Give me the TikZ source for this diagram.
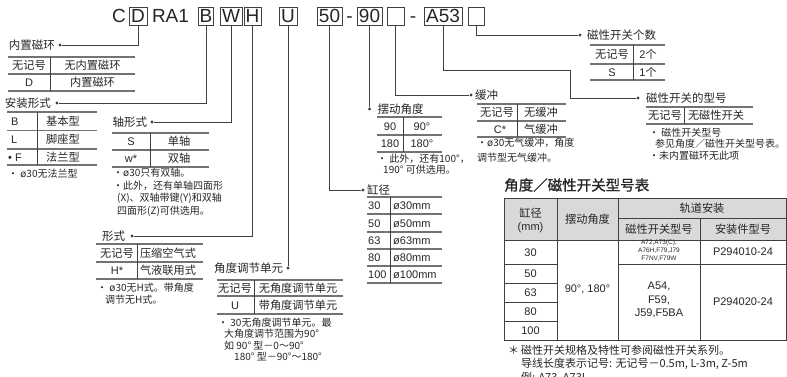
\documentclass[tikz,border=0pt]{standalone}
\usepackage{fontspec}
\setmainfont{Noto Sans CJK SC}
\newfontfamily\lat{Liberation Sans}
\newfontfamily\zh{Noto Sans CJK SC}
\newfontfamily\zhbold[FakeBold=1.2]{Noto Sans CJK SC}
\usetikzlibrary{positioning}
\colorlet{ink}{black!85}
\colorlet{rule}{black!55}
\colorlet{wire}{black!75}
\colorlet{head}{black!15}
\tikzset{
  codebox/.style ={draw=wire, line width=0.8pt, minimum height=18pt,
                   inner sep=0pt, font=\lat\fontsize{19}{19}\selectfont,
                   text height=13.6pt, text depth=0pt},
  codetxt/.style ={codebox, draw=none},
  leader/.style  ={draw=wire, line width=0.8pt},
  tip/.style     ={circle, fill=wire, inner sep=0pt, minimum size=3.2pt},
  lbl/.style     ={inner sep=0pt, font=\fontsize{11.5}{13}\selectfont,
                   text height=9pt, text depth=1pt},
  cell/.style    ={inner sep=0pt, font=\fontsize{11.2}{13}\selectfont,
                   text height=9pt, text depth=1pt},
  latcell/.style ={cell, font=\lat\fontsize{11}{13}\selectfont},
  % multi-line notes: the base anchor sits on the last line
  note/.style    ={inner sep=0pt, anchor=base west, align=left,
                   font=\fontsize{10}{12}\selectfont},
  foot/.style    ={inner sep=0pt, anchor=base west,
                   font=\fontsize{11}{13}\selectfont},
  rowline/.style ={draw=rule, line width=1.3pt},
  colline/.style ={draw=wire, line width=0.8pt},
  grid/.style    ={draw=wire, line width=0.7pt},
}

\begin{document}
\begin{tikzpicture}[x=1pt, y=-1pt, color=ink]
\useasboundingbox (0,0) rectangle (787,376);
\fill[white] (0,0) rectangle (787,376);

% model code
\node[codetxt] (cC) at (119,16) {C};
\node[codebox, minimum width=18pt] (bD) at (138,16) {D};
\node[codetxt] (cRA) at (170.5,16) {RA1};
\node[codebox, minimum width=15pt] (bB) at (206,16) {B};
\node[codebox, minimum width=22pt] (bW) at (231,16) {W};
\node[codebox, minimum width=17pt] (bH) at (252.5,16) {H};
\node[codebox, minimum width=18pt] (bU) at (288,16) {U};
\node[codebox, minimum width=25pt] (b50) at (329.5,16) {50};
\node[codetxt] (cDashA) at (349.5,16) {-};
\node[codebox, minimum width=25pt] (b90) at (369.5,16) {90};
\node[codebox, minimum width=17pt] (bCush) at (395.5,16) {};
\node[codetxt] (cDashB) at (413,16) {-};
\node[codebox, minimum width=38pt] (bA) at (443,16) {A53};
\node[codebox, minimum width=16pt] (bN) at (476,16) {};

% built-in magnet
\node[tip] (dD) at (60,45) {};
\node[lbl, left=3pt of dD] (lD) {内置磁环};
\draw[leader] (bD.south) |- (dD);
\foreach \y in {57,74,91} \draw[rowline] (8,\y) -- (135,\y);
\draw[colline] (50,57) -- (50,91);
\node[cell] (magNo) at (29,65.5) {无记号};
\node[cell] (magNoV) at (92.5,65.5) {无内置磁环};
\node[latcell] (magD) at (29,82.5) {D};
\node[cell] (magDV) at (92.5,82.5) {内置磁环};

% mounting
\node[tip] (dB) at (57,103) {};
\node[lbl, left=4pt of dB] (lB) {安装形式};
\draw[leader] (bB.south) |- (dB);
\foreach \y in {112,130.5,149,165} \draw[rowline] (7,\y) -- (97,\y);
\draw[colline] (37,112) -- (37,165);
\node[latcell, anchor=west] (mtB) at (11,121) {B};
\node[cell] (mtBV) at (63,121) {基本型};
\node[latcell, anchor=west] (mtL) at (11,139.5) {L};
\node[cell] (mtLV) at (63,139.5) {脚座型};
\node[latcell, anchor=west] (mtF) at (8,157) {• F};
\node[cell] (mtFV) at (63,157) {法兰型};
\node[note] (mtNote) at (8,177.5) {• ø30无法兰型};

% shaft
\node[tip] (dW) at (152,122) {};
\node[lbl, left=3pt of dW] (lW) {轴形式};
\draw[leader] (bW.south) |- (dW);
\foreach \y in {133,150,167} \draw[rowline] (112,\y) -- (209,\y);
\draw[colline] (150,133) -- (150,167);
\node[latcell] (shS) at (131,141.5) {S};
\node[cell] (shSV) at (179,141.5) {单轴};
\node[latcell] (shW) at (131,158.5) {w*};
\node[cell] (shWV) at (179,158.5) {双轴};
\node[note, font=\fontsize{10}{12.7}\selectfont] (shNote) at (113,214.6)
  {•ø30只有双轴。\\
   •此外，还有单轴四面形\\
   \hspace*{4pt}(X)、双轴带键(Y)和双轴\\
   \hspace*{4pt}四面形(Z)可供选用。};

% type
\node[tip] (dH) at (132,236) {};
\node[lbl, left=5pt of dH] (lH) {形式};
\draw[leader] (bH.south) |- (dH);
\foreach \y in {244,262,279} \draw[rowline] (96,\y) -- (203,\y);
\draw[colline] (137,244) -- (137,279);
\node[cell] (tyNo) at (117,253) {无记号};
\node[cell] (tyNoV) at (168,253) {压缩空气式};
\node[latcell] (tyH) at (117,270.5) {H*};
\node[cell] (tyHV) at (168,270.5) {气液联用式};
\node[note] (tyNote) at (97,303.5)
  {• ø30无H式。带角度\\
   \hspace*{8pt}调节无H式。};

% angle adjuster
\node[tip] (dU) at (288,268) {};
\node[lbl, left=3pt of dU] (lU) {角度调节单元};
\draw[leader] (bU.south) -- (dU);
\foreach \y in {280,296,314} \draw[rowline] (217,\y) -- (343,\y);
\draw[colline] (254,280) -- (254,314);
\node[cell] (adNo) at (235,288) {无记号};
\node[cell] (adNoV) at (298,288) {无角度调节单元};
\node[latcell] (adU) at (235,305) {U};
\node[cell] (adUV) at (298,305) {带角度调节单元};
\node[note, font=\fontsize{10}{11.4}\selectfont] (adNote) at (218,360.7)
  {• 30无角度调节单元。最\\
   \hspace*{6pt}大角度调节范围为90°\\
   \hspace*{6pt}如 90° 型－0～90°\\
   \hspace*{16pt}180° 型－90°～180°};

% bore
\node[tip] (dBore) at (363,190) {};
\node[lbl, right=2pt of dBore] (lBore) {缸径};
\draw[leader] (b50.south) |- (dBore);
\foreach \y in {197,214,232,249,266,283} \draw[rowline] (367,\y) -- (442,\y);
\draw[colline] (390,197) -- (390,283);
\foreach \v/\y [count=\i] in {30/205.5,50/223,63/240.5,80/257.5,100/274.5}{
  \node[latcell, anchor=west] (boK\i) at (368,\y) {\v};
  \node[latcell, anchor=west] (boV\i) at (393,\y) {ø\v mm};
}

% swing angle
\node[tip] (dSwing) at (369.5,109) {};
\node[lbl, right=6pt of dSwing] (lSwing) {摆动角度};
\draw[leader] (b90.south) -- (dSwing);
\foreach \y in {117,135,152} \draw[rowline] (377,\y) -- (442,\y);
\draw[colline] (403,117) -- (403,152);
\node[latcell] (swA) at (390,126) {90};
\node[latcell] (swAV) at (422,126) {90°};
\node[latcell] (swB) at (390,143.5) {180};
\node[latcell] (swBV) at (422,143.5) {180°};
\node[note, font=\fontsize{10}{11}\selectfont] (swNote) at (377,173.5)
  {• 此外，还有100°，\\
   \hspace*{6pt}190° 可供选用。};

% cushion
\node[tip] (dCush) at (471,95) {};
\node[lbl, right=2pt of dCush] (lCush) {缓冲};
\draw[leader] (bCush.south) |- (dCush);
\foreach \y in {104,121,137} \draw[rowline] (477,\y) -- (566,\y);
\draw[colline] (517,104) -- (517,137);
\node[cell] (cuNo) at (497,112.5) {无记号};
\node[cell] (cuNoV) at (541,112.5) {无缓冲};
\node[latcell] (cuC) at (500,129) {C*};
\node[cell] (cuCV) at (541,129) {气缓冲};
\node[note, font=\fontsize{10}{14.5}\selectfont] (cuNote) at (477,161)
  {•ø30无气缓冲，角度\\
   调节型无气缓冲。};

% switch model
\node[tip] (dSw) at (638,98) {};
\node[lbl, right=6pt of dSw] (lSw) {磁性开关的型号};
\draw[leader] (bA.south) |- (570,70) |- (dSw);
\foreach \y in {107,124} \draw[rowline] (646,\y) -- (753,\y);
\draw[colline] (684,107) -- (684,124);
\node[cell] (swNo) at (665,115.5) {无记号};
\node[cell] (swNoV) at (716,115.5) {无磁性开关};
\node[note, font=\fontsize{10}{11.5}\selectfont] (swtNote) at (649,159)
  {• 磁性开关型号\\
   \hspace*{6pt}参见角度／磁性开关型号表。\\
   •未内置磁环无此项};

% switch count
\node[tip] (dNum) at (580,35) {};
\node[lbl, right=5pt of dNum] (lNum) {磁性开关个数};
\draw[leader] (bN.south) |- (dNum);
\foreach \y in {45,64,80} \draw[rowline] (590,\y) -- (665,\y);
\draw[colline] (633,45) -- (633,80);
\node[cell] (nuNo) at (612,54.5) {无记号};
\node[latcell] (nuNoV) at (648,54.5) {2\zh 个};
\node[latcell] (nuS) at (612,72) {S};
\node[latcell] (nuSV) at (648,72) {1\zh 个};

% angle / switch table
\node[inner sep=0pt, anchor=west, font=\zhbold\fontsize{14.5}{16}\selectfont]
  (tTitle) at (504,185) {角度／磁性开关型号表};
\fill[head] (504,198) rectangle (786,240);
\draw[grid] (504,198) rectangle (786,340);
\draw[grid] (557,198) -- (557,340);
\draw[grid] (618,198) -- (618,340);
\draw[grid] (700,218) -- (700,340);
\draw[grid] (618,218) -- (786,218);
\draw[grid] (504,240) -- (786,240);
\draw[grid] (504,264) -- (557,264) (618,264) -- (786,264);
\foreach \y in {283,302,321} \draw[grid] (504,\y) -- (557,\y);
\node[cell] (hBore) at (530.5,213) {缸径};
\node[latcell] (hMm) at (530.5,226.5) {(mm)};
\node[cell] (hSwing) at (587.5,219) {摆动角度};
\node[cell] (hRail) at (702,208) {轨道安装};
\node[cell] (hSw) at (659,229) {磁性开关型号};
\node[cell] (hFit) at (743,229) {安装件型号};
\foreach \v/\y [count=\i] in {30/252,50/273.5,63/292.5,80/311.5,100/330.5}
  \node[latcell] (rBore\i) at (530.5,\y) {\v};
\node[latcell] (rSwing) at (587.5,288) {90°, 180°};
\node[inner sep=0pt, align=center, font=\lat\fontsize{6.5}{8}\selectfont]
  (rSwA) at (659,251) {A72,A73(C),\\A76H,F79,J79\\F7NV,F79W};
\node[inner sep=0pt, align=center, font=\lat\fontsize{11}{13.5}\selectfont]
  (rSwB) at (659,300) {A54,\\F59,\\J59,F5BA};
\node[latcell] (rFitA) at (743,251.5) {P294010-24};
\node[latcell] (rFitB) at (743,301) {P294020-24};

% footnotes
\node[foot] (fStar) at (508,354) {＊};
\node[foot] (fA) at (521,354) {磁性开关规格及特性可参阅磁性开关系列。};
\node[foot] (fB) at (521,367.5) {导线长度表示记号: 无记号－0.5m, L-3m, Z-5m};
\node[foot] (fC) at (521,381) {例: A73, A73L};
\end{tikzpicture}
\end{document}
